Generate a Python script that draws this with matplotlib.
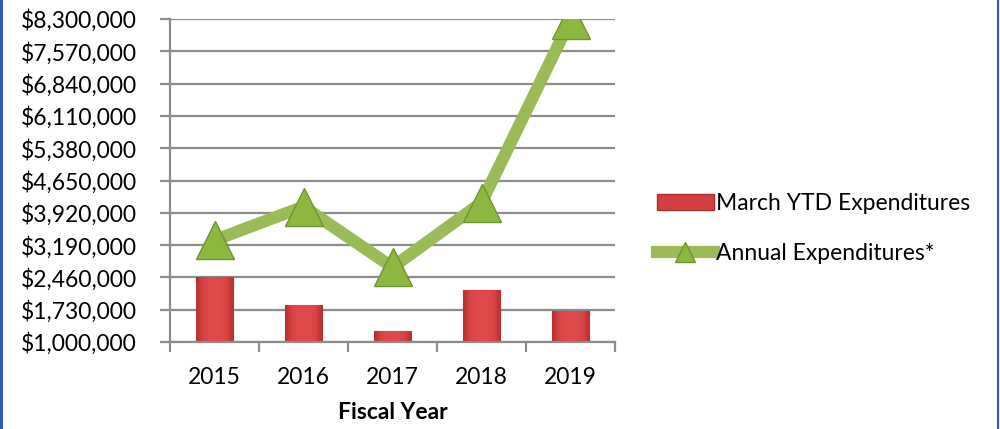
import numpy as np
import matplotlib.pyplot as plt
from matplotlib.lines import Line2D
from matplotlib.patches import Patch
from matplotlib.colors import LinearSegmentedColormap
from matplotlib.ticker import FuncFormatter

years = ['2015', '2016', '2017', '2018', '2019']
march_ytd = [2470000, 1840000, 1250000, 2180000, 1690000]
annual = [3300000, 4060000, 2690000, 4150000, 8280000]
yticks = [1000000, 1730000, 2460000, 3190000, 3920000, 4650000,
          5380000, 6110000, 6840000, 7570000, 8300000]

plt.rcParams['font.family'] = ['Lato', 'DejaVu Sans']
fs = 16.5

fig = plt.figure(figsize=(10, 4.29), dpi=100)
ax = fig.add_axes([0.170, 0.2028, 0.445, 0.7529])

x = np.arange(len(years))
bars = ax.bar(x, march_ytd, width=0.42, bottom=0, color='#D43F3F',
              edgecolor='#A83030', linewidth=0.8, zorder=2)

# bevel-ish shading on each bar
reds = LinearSegmentedColormap.from_list('bevel', ['#B83232', '#D94242', '#E04A4A'])
grad = np.array([[0.0, 0.6, 0.9, 1.0, 1.0, 0.9, 0.6, 0.0]])
for b in bars:
    x0, y0 = b.get_x(), 1000000
    im = ax.imshow(grad, cmap=reds, vmin=0, vmax=1, aspect='auto',
                   extent=[x0, x0 + b.get_width(), y0, b.get_height()],
                   zorder=2.1, interpolation='bicubic')
    im.set_clip_path(b)

ax.plot(x, annual, color='#9BBB59', linewidth=8.8, solid_capstyle='butt',
        zorder=3)
ax.plot(x, annual, linestyle='none', marker='^', markersize=27,
        markerfacecolor='#8DB840', markeredgecolor='#6F9330',
        markeredgewidth=1.0, zorder=4)

ax.set_xlim(-0.5, 4.5)
ax.set_ylim(1000000, 8300000)
ax.set_yticks(yticks)
ax.yaxis.set_major_formatter(FuncFormatter(lambda v, p: '${:,.0f}'.format(v)))
ax.set_xticks(np.arange(-0.5, 5, 1.0))
ax.set_xticklabels([])
ax.set_xticks(x, minor=True)
ax.set_xticklabels(years, minor=True)
ax.tick_params(axis='x', which='minor', length=0, pad=18, labelsize=fs)
ax.tick_params(axis='x', which='major', length=7, width=1.6, color='#8C8C8C')
ax.tick_params(axis='y', length=7, width=1.6, color='#8C8C8C', pad=17,
               labelsize=fs)

ax.grid(axis='y', color='#8C8C8C', linewidth=1.6, zorder=0)
ax.set_axisbelow(True)
for s in ['top', 'right']:
    ax.spines[s].set_visible(False)
for s in ['left', 'bottom']:
    ax.spines[s].set_color('#8C8C8C')
    ax.spines[s].set_linewidth(1.6)

ax.set_xlabel('Fiscal Year', fontsize=fs, fontweight='bold', labelpad=10)

handles = [
    Patch(facecolor='#D43F3F', edgecolor='#A83030'),
    Line2D([0], [0], color='#9BBB59', linewidth=8.8, marker='^',
           markersize=15, markerfacecolor='#8DB840',
           markeredgecolor='#6F9330'),
]
fig.legend(handles, ['March YTD Expenditures', 'Annual Expenditures*'],
           loc='center left', bbox_to_anchor=(0.636, 0.468), frameon=False,
           fontsize=fs, handlelength=2.5, handleheight=0.65, handletextpad=0.1,
           labelspacing=1.25)

# blue frame edges
fig.add_artist(Line2D([0.001, 0.001], [0, 1], color='#2E5DB8', linewidth=2.2))
fig.add_artist(Line2D([0.998, 0.998], [0, 1], color='#2E5DB8', linewidth=1.5))

fig.savefig('out.png', dpi=100)
